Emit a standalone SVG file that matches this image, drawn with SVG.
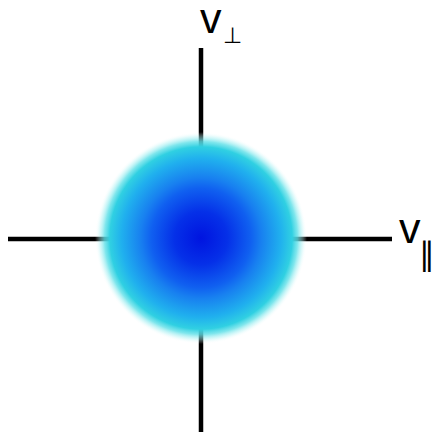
<svg xmlns="http://www.w3.org/2000/svg" width="436" height="435" viewBox="0 0 436 435">
<style>
.axis{stroke:#000;stroke-width:4.5;fill:none}
.lbl{font-family:"Liberation Sans",Arial,sans-serif;fill:#000}
.sub{font-family:"DejaVu Sans",sans-serif;fill:#000}
</style>
<defs>
<radialGradient id="blob" cx="201" cy="238" r="106" gradientUnits="userSpaceOnUse">
<stop offset="0" stop-color="#0014e0"/>
<stop offset="0.25" stop-color="#0530e8"/>
<stop offset="0.47" stop-color="#1060f0"/>
<stop offset="0.57" stop-color="#1880f0"/>
<stop offset="0.75" stop-color="#20b0ee"/>
<stop offset="0.86" stop-color="#30d0e2"/>
<stop offset="0.91" stop-color="#60e0e8" stop-opacity="0.8"/>
<stop offset="0.96" stop-color="#b0f2f4" stop-opacity="0.4"/>
<stop offset="1" stop-color="#ffffff" stop-opacity="0"/>
</radialGradient>
</defs>
<rect width="436" height="435" fill="#fff"/>
<g id="axes">
<line class="axis" x1="201" y1="48" x2="201" y2="432"/>
<line class="axis" x1="8" y1="239" x2="392" y2="239"/>
</g>
<g id="distribution">
<circle cx="201" cy="238" r="106" fill="url(#blob)"/>
</g>
<g id="label-vperp">
<text class="lbl" x="200" y="33" font-size="43">v</text>
<text class="sub" x="223" y="43" font-size="22">⊥</text>
</g>
<g id="label-vpar">
<text class="lbl" x="399" y="243" font-size="43">v</text>
<text class="sub" x="419" y="265" font-size="32">∥</text>
</g>
</svg>
